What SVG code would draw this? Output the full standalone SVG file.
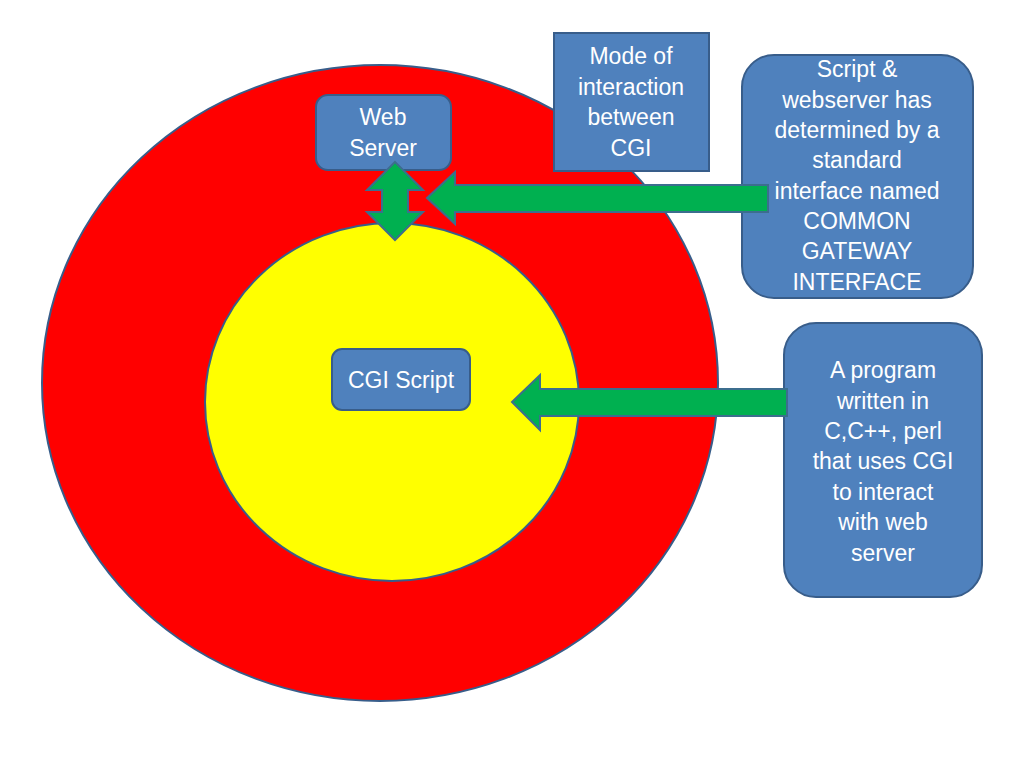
<svg xmlns="http://www.w3.org/2000/svg" width="1024" height="768" viewBox="0 0 1024 768">
<style>
.box{fill:#4F81BD;stroke:#385D8A;stroke-width:2}
.arr{fill:#00B050;stroke:#3C6E8E;stroke-width:2;stroke-linejoin:miter}
text{font-family:"Liberation Sans",Arial,sans-serif;font-size:23px;fill:#FFFFFF;text-anchor:middle}
</style>
<rect width="1024" height="768" fill="#FFFFFF"/>
<g id="outer-circle"><ellipse cx="380" cy="383" rx="338" ry="318" fill="#FF0000" stroke="#385D8A" stroke-width="2"/></g>
<g id="inner-circle"><ellipse cx="392" cy="402" rx="187" ry="179" fill="#FFFF00" stroke="#385D8A" stroke-width="2"/></g>
<g id="web-server">
<rect class="box" x="316" y="95" width="135" height="75" rx="12"/>
<text x="383" y="125">Web</text>
<text x="383" y="156">Server</text>
</g>
<g id="mode">
<rect class="box" x="554" y="33" width="155" height="138"/>
<text x="631" y="64">Mode of</text>
<text x="631" y="95">interaction</text>
<text x="631" y="125">between</text>
<text x="631" y="156">CGI</text>
</g>
<g id="cgi-script">
<rect class="box" x="332" y="349" width="138" height="61" rx="10"/>
<text x="401" y="388">CGI Script</text>
</g>
<g id="standard-interface">
<rect class="box" x="742" y="55" width="231" height="243" rx="32"/>
<text x="857" y="77">Script &amp;</text>
<text x="857" y="108">webserver has</text>
<text x="857" y="138">determined by a</text>
<text x="857" y="168">standard</text>
<text x="857" y="199">interface named</text>
<text x="857" y="229">COMMON</text>
<text x="857" y="259">GATEWAY</text>
<text x="857" y="290">INTERFACE</text>
</g>
<g id="program">
<rect class="box" x="784" y="323" width="198" height="274" rx="32"/>
<text x="883" y="378">A program</text>
<text x="883" y="409">written in</text>
<text x="883" y="439">C,C++, perl</text>
<text x="883" y="469">that uses CGI</text>
<text x="883" y="500">to interact</text>
<text x="883" y="530">with web</text>
<text x="883" y="561">server</text>
</g>
<g id="connectors">
<path class="arr" d="M395,162 L423,190 L408,190 L408,212 L423,212 L395,240 L367,212 L382,212 L382,190 L367,190 Z"/>
<path class="arr" d="M427,198 L455,172 L455,185 L768,185 L768,212 L455,212 L455,224 Z"/>
<path class="arr" d="M512,402 L540,375 L540,389 L787,389 L787,416 L540,416 L540,430 Z"/>
</g>
</svg>
